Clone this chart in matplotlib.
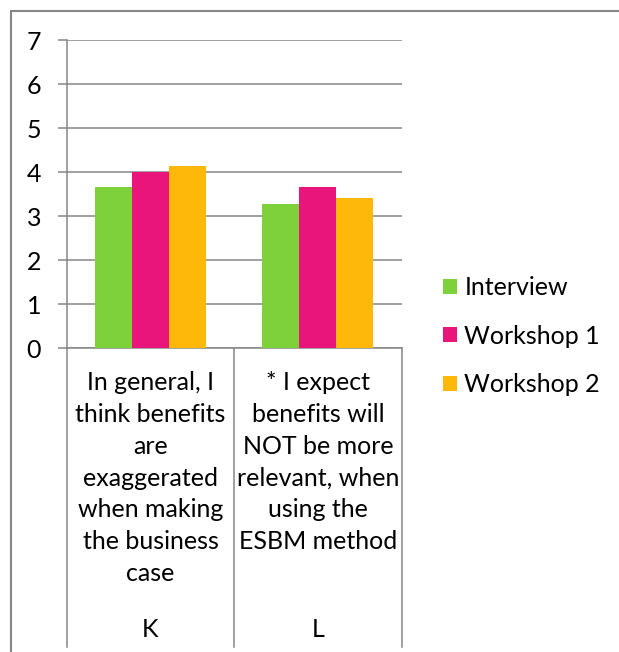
import matplotlib.pyplot as plt
from matplotlib.patches import Rectangle
import matplotlib.transforms as mtransforms

plt.rcParams['font.family'] = ['Lato', 'DejaVu Sans']

codes = ['K', 'L']
questions = ['In general, I\nthink benefits\nare\nexaggerated\nwhen making\nthe business\ncase',
             '* I expect\nbenefits will\nNOT be more\nrelevant, when\nusing the\nESBM method']
series = ['Interview', 'Workshop 1', 'Workshop 2']
interview = [3.67, 3.27]
workshop1 = [4.0, 3.67]
workshop2 = [4.14, 3.40]
colors = ['#7FD13B', '#EA157A', '#FEB80A']

grey = '#868686'
fs = 18
fig = plt.figure(figsize=(6.19, 6.52), dpi=100)
ax = fig.add_axes([66.7 / 619, 1 - 348 / 652, 335 / 619, 308 / 652])

w = 0.221
for j, (vals, name) in enumerate(zip([interview, workshop1, workshop2], series)):
    xs = [i + (j - 1) * w for i in range(len(codes))]
    ax.bar(xs, vals, width=w, color=colors[j], label=name, zorder=3)

ax.set_xlim(-0.5, 1.5)
ax.set_ylim(0, 7)
ax.set_yticks(range(8))
ax.yaxis.grid(True, color=grey, linewidth=1.1, zorder=0)
ax.set_xticks([])
for s in ['top', 'right']:
    ax.spines[s].set_visible(False)
for s in ['left', 'bottom']:
    ax.spines[s].set_color(grey)
    ax.spines[s].set_linewidth(1.1)
ax.tick_params(axis='y', length=6.5, width=1.1, color=grey, pad=12, labelsize=fs)

# category area lines and labels
trans = mtransforms.blended_transform_factory(ax.transData, ax.transAxes)
for xb in [-0.5, 0.5, 1.5]:
    ax.plot([xb, xb], [0, -0.97], transform=trans, color=grey, lw=1.1, clip_on=False)
for i in range(len(codes)):
    ax.text(i, -0.076, questions[i], transform=trans, ha='center', va='top',
            fontsize=fs, linespacing=1.46)
    ax.text(i, -0.915, codes[i], transform=trans, ha='center', va='center', fontsize=fs)

fig.legend(loc='center left', bbox_to_anchor=(443 / 619, 1 - 336 / 652), frameon=False,
           fontsize=fs, handlelength=0.56, handleheight=0.56, handletextpad=0.3,
           labelspacing=1.02, borderpad=0, borderaxespad=0)

fig.patches.append(Rectangle((11 / 619, -0.1), 1.2, 1.1 - 11 / 652, transform=fig.transFigure,
                             fill=False, edgecolor=grey, lw=1.5))

fig.savefig('out.png', dpi=100)
